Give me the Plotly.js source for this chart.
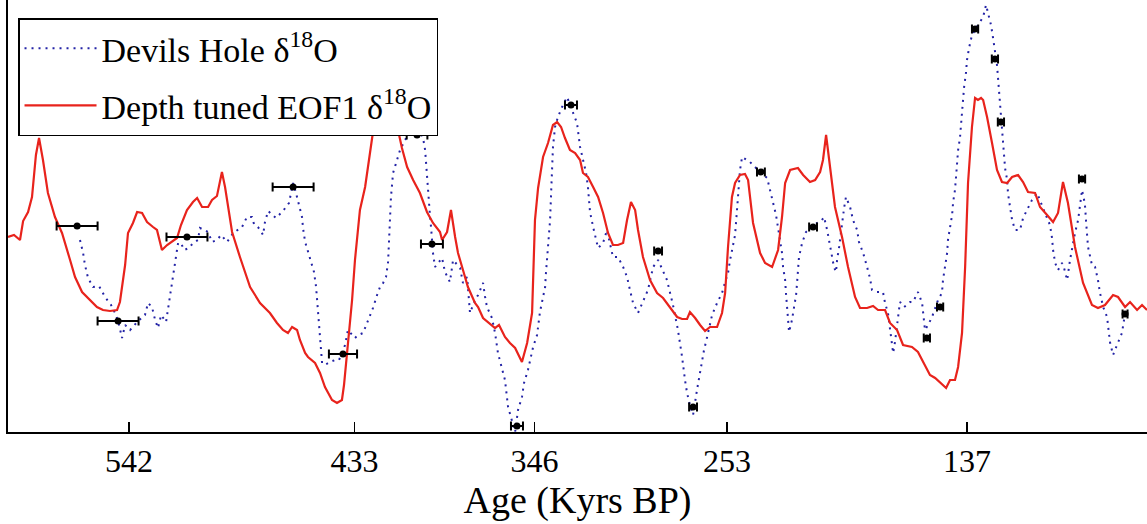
<!DOCTYPE html>
<html>
<head>
<meta charset="utf-8">
<script src="https://cdn.plot.ly/plotly-3.0.1.min.js"></script>
<style>
html,body{margin:0;padding:0;background:#fff;}
#chart{width:1147px;height:524px;}
</style>
</head>
<body>
<div id="chart"></div>
<script>
// Age axis (kyr BP) tick labels
const tickAges = [542, 433, 346, 253, 137];

// Depth tuned EOF1 d18O (arbitrary vertical units)
const eofAge = [600.5,597.6,594.7,593.2,590.8,588.9,587.0,585.5,583.6,581.2,577.8,574.4,570.5,568.1,564.7,560.9,557.5,554.6,551.2,547.8,546.4,543.9,542.5,540.1,538.1,535.7,533.3,530.4,528.5,526.1,523.6,518.8,516.9,514.0,511.1,509.1,506.7,503.8,501.9,499.5,497.1,495.6,492.2,488.4,483.5,478.7,473.9,470.5,467.6,465.2,463.2,460.8,459.4,456.9,455.5,452.1,449.7,447.3,443.9,441.5,439.1,438.1,436.2,434.2,432.8,430.4,427.9,425.5,424.1,420.7,417.8,414.9,412.0,410.1,407.6,404.7,401.4,398.0,395.1,391.7,390.7,388.3,386.4,384.4,383.0,380.6,378.2,374.8,373.3,370.9,368.5,365.1,363.2,360.3,357.9,355.4,352.1,349.6,347.2,345.8,344.3,341.9,339.5,337.1,335.1,333.2,331.3,328.9,326.4,324.0,322.6,320.2,317.7,315.3,312.9,310.5,308.1,305.7,303.2,301.3,299.4,297.4,296.0,293.6,290.2,286.8,283.9,280.5,277.1,274.7,272.3,270.9,268.4,266.0,263.6,261.2,257.8,255.4,253.9,252.5,250.6,249.1,246.7,244.3,242.8,240.4,237.0,234.6,231.2,228.3,226.4,224.9,222.5,218.7,216.2,212.9,210.4,208.0,206.6,205.1,203.2,200.8,197.4,194.5,191.1,188.7,185.3,182.4,180.0,176.6,174.2,170.8,167.9,163.6,160.7,158.2,154.9,152.4,150.0,147.1,145.2,142.8,141.3,139.4,137.9,136.5,134.6,133.1,131.7,130.2,129.2,127.3,124.9,122.5,120.1,117.6,115.2,112.3,109.9,107.5,104.1,101.7,98.3,95.4,93.0,90.6,88.2,84.8,80.9,76.6,73.7,70.3,66.4,64.0,60.6,58.2,54.8,52.4,50.0];
const eofVal = [1.95,1.97,1.92,2.11,2.20,2.35,2.77,2.94,2.72,2.39,2.15,1.99,1.72,1.55,1.40,1.32,1.25,1.22,1.21,1.22,1.30,1.67,1.99,2.09,2.20,2.19,2.10,2.05,2.02,1.82,1.87,1.94,2.07,2.22,2.30,2.34,2.25,2.25,2.32,2.36,2.60,2.45,2.00,1.75,1.45,1.29,1.19,1.09,1.02,0.99,1.05,1.02,0.92,0.79,0.75,0.69,0.59,0.45,0.32,0.29,0.32,0.47,0.85,1.32,1.72,2.22,2.45,2.79,3.00,3.27,3.37,3.22,3.02,2.84,2.65,2.52,2.39,2.20,2.09,2.00,1.92,2.00,2.22,1.95,1.79,1.62,1.45,1.29,1.25,1.14,1.10,1.04,1.07,0.95,0.89,0.84,0.70,0.89,1.19,2.12,2.44,2.75,2.89,3.07,3.10,3.05,2.94,2.82,2.79,2.72,2.59,2.55,2.45,2.35,2.19,1.99,1.87,1.87,1.89,2.12,2.30,2.22,2.02,1.75,1.52,1.39,1.34,1.25,1.15,1.13,1.13,1.20,1.14,1.07,1.01,1.05,1.05,1.19,1.39,1.85,2.35,2.49,2.57,2.58,2.52,2.09,1.79,1.69,1.65,1.82,2.15,2.49,2.62,2.64,2.57,2.50,2.52,2.60,2.72,2.97,2.65,2.25,1.95,1.65,1.35,1.24,1.24,1.26,1.22,1.22,1.09,1.02,0.87,0.85,0.80,0.70,0.57,0.54,0.49,0.44,0.52,0.52,0.65,0.99,1.65,2.49,3.05,3.34,3.32,3.34,3.32,3.15,2.89,2.62,2.50,2.49,2.55,2.57,2.50,2.40,2.39,2.25,2.17,2.10,2.19,2.50,2.29,1.85,1.49,1.27,1.24,1.27,1.37,1.35,1.25,1.30,1.22,1.27,1.22];

// Devils Hole d18O (same vertical units)
const dhAge = [565.7,564.2,563.3,561.8,559.4,556.5,553.6,550.7,548.3,546.8,545.4,543.9,541.5,538.1,534.3,532.8,530.9,529.4,528.0,526.5,524.1,523.2,522.2,521.2,520.3,519.3,518.3,516.9,515.4,513.0,511.1,508.7,507.7,503.8,501.9,499.5,497.5,494.6,491.7,487.4,485.0,482.6,481.6,479.7,477.2,476.3,474.8,471.0,467.6,464.7,462.7,461.3,459.8,458.4,457.9,456.9,456.0,454.0,452.6,451.6,451.1,450.7,450.2,449.7,449.2,448.7,447.3,444.9,442.4,440.5,437.6,436.2,432.8,431.3,428.9,426.5,424.1,422.1,420.7,419.2,417.8,416.8,416.3,415.9,415.4,414.4,412.5,411.0,408.6,405.2,402.3,399.9,398.9,398.5,398.0,397.5,397.0,396.5,396.0,395.1,394.1,390.7,389.3,386.9,385.4,382.0,380.6,378.6,377.2,374.8,373.3,370.9,369.9,369.0,366.6,365.1,363.7,361.7,360.3,358.8,356.9,355.4,354.0,352.1,351.1,349.2,346.7,344.8,343.4,341.9,340.9,340.5,340.0,339.5,338.5,338.0,337.6,337.1,336.1,334.7,332.7,330.3,327.9,325.5,324.0,322.6,321.1,320.2,319.7,319.2,317.7,315.3,312.9,311.0,308.1,305.7,303.2,301.3,299.9,298.4,296.0,293.6,291.2,288.7,286.3,282.0,280.5,279.1,276.7,275.7,274.7,273.3,272.3,270.9,269.4,267.5,266.5,265.1,264.1,262.6,260.2,257.8,255.4,253.9,252.5,251.5,250.1,249.1,248.6,248.1,247.7,247.2,246.7,245.7,241.9,237.0,233.6,232.2,230.7,229.3,228.3,226.4,225.9,224.9,224.5,224.0,223.5,223.0,221.6,220.6,219.6,219.1,218.2,216.7,214.8,211.9,209.5,207.1,206.1,204.6,203.7,202.2,201.3,200.3,199.8,198.8,197.4,196.4,195.5,193.5,192.1,190.1,189.2,187.2,185.3,183.9,182.9,180.5,177.6,176.6,175.2,174.2,172.7,171.8,170.3,169.4,167.4,164.5,163.1,160.7,158.7,157.8,157.3,155.8,153.9,151.0,149.1,148.6,147.6,146.6,146.2,145.2,144.2,143.7,142.8,142.3,141.8,141.3,140.4,139.9,139.4,138.9,138.4,137.5,137.0,136.0,134.6,132.6,130.7,129.2,127.8,126.8,125.4,124.4,123.4,122.5,122.0,121.5,121.0,120.5,120.1,119.6,119.1,118.6,117.6,117.2,116.2,115.2,113.8,111.4,109.9,107.5,105.6,103.1,100.7,99.3,96.9,95.9,95.4,94.4,93.0,91.1,90.1,88.6,87.2,86.2,84.8,83.3,82.4,81.4,80.4,79.9,79.5,79.0,78.5,76.6,75.1,73.7,72.7,71.2,69.3,67.9,66.4,64.5,62.1,61.1,60.6];
const dhVal = [1.92,1.79,1.67,1.54,1.45,1.46,1.35,1.27,1.17,1.07,0.94,1.07,1.02,1.10,1.17,1.29,1.25,1.12,1.04,1.17,1.10,1.22,1.35,1.49,1.60,1.74,1.89,1.89,1.82,1.84,1.89,1.92,2.04,2.00,1.90,1.92,1.97,1.90,1.99,2.05,2.15,2.15,2.08,2.05,1.97,2.10,2.21,2.14,2.21,2.29,2.49,2.39,2.28,2.15,2.04,1.90,1.84,1.70,1.60,1.45,1.34,1.20,1.07,0.95,0.82,0.69,0.67,0.70,0.72,0.72,0.87,1.02,0.94,0.97,0.99,1.12,1.24,1.37,1.45,1.49,1.55,1.70,1.95,2.22,2.35,2.59,2.72,2.82,2.92,3.04,3.05,2.94,2.82,2.69,2.55,2.42,2.29,2.15,2.04,1.79,1.65,1.74,1.60,1.50,1.72,1.64,1.49,1.55,1.19,1.32,1.37,1.49,1.35,1.25,1.14,0.99,0.79,0.64,0.52,0.25,0.12,0.00,0.22,0.35,0.49,0.62,0.85,0.97,1.20,1.34,1.45,1.59,1.72,1.85,2.12,2.39,2.65,2.85,3.05,3.15,3.25,3.35,3.22,3.09,2.85,2.72,2.59,2.45,2.32,2.20,2.05,1.84,1.89,2.02,1.75,1.75,1.65,1.55,1.42,1.29,1.19,1.30,1.42,1.65,1.72,1.52,1.39,1.27,1.02,0.89,0.75,0.52,0.39,0.27,0.17,0.42,0.55,0.69,0.82,0.95,1.17,1.29,1.39,1.50,1.59,1.72,1.85,1.97,2.10,2.22,2.37,2.50,2.62,2.75,2.70,2.60,2.54,2.42,2.29,2.17,2.04,1.79,1.65,1.52,1.39,1.27,1.14,1.00,1.12,1.25,1.37,1.50,1.75,1.89,2.00,2.05,2.09,2.12,2.15,2.02,1.92,1.79,1.65,1.60,1.72,1.85,2.10,2.24,2.35,2.25,2.12,2.02,1.90,1.79,1.65,1.54,1.42,1.40,1.40,1.29,1.19,1.04,0.79,0.90,1.17,1.30,1.25,1.30,1.30,1.40,1.29,1.15,1.02,1.07,1.15,1.32,1.39,1.52,1.65,1.79,1.92,2.04,2.17,2.30,2.42,2.55,2.69,2.82,2.94,3.07,3.20,3.34,3.45,3.59,3.72,3.84,3.97,4.04,4.10,4.15,4.27,4.19,4.07,3.94,3.80,3.67,3.54,3.42,3.29,3.15,3.02,2.89,2.77,2.64,2.52,2.39,2.25,2.12,2.02,2.02,2.14,2.25,2.32,2.39,2.25,2.19,2.07,1.94,1.82,1.69,1.62,1.69,1.64,1.52,1.72,1.84,1.99,2.12,2.29,2.42,2.32,2.25,2.12,1.99,1.85,1.67,1.65,1.52,1.39,1.25,1.15,0.90,0.77,0.87,0.99,1.12,1.18];

// Radiometric tie points with age uncertainties
const tieAge = [567.1,547.3,514.0,462.7,438.6,402.8,395.6,354.5,328.4,286.3,269.4,236.6,211.4,156.4,150.0,133.1,123.5,120.6,81.4,60.6];
const tieVal = [2.06,1.11,1.95,2.45,0.78,2.97,1.88,0.06,3.27,1.81,0.25,2.60,2.05,0.94,1.25,4.03,3.73,3.10,2.53,1.18];
const tieErr = [9.9,9.9,9.9,9.9,6.8,5.0,5.3,2.9,2.9,1.9,1.9,1.9,1.9,1.5,1.5,1.5,1.5,1.5,1.5,1.2];

const serif = '"Liberation Serif", "Times New Roman", "DejaVu Serif", serif';

const traces = [
  {
    x: dhAge, y: dhVal, type: 'scatter', mode: 'lines',
    name: 'Devils Hole δ<sup>18</sup>O',
    line: {color: '#2323a6', width: 2, dash: '2px,5px'},
    legendgroup: 'a'
  },
  {
    x: eofAge, y: eofVal, type: 'scatter', mode: 'lines',
    name: 'Depth tuned EOF1 δ<sup>18</sup>O',
    line: {color: '#e8231c', width: 2.2},
    legendgroup: 'b'
  },
  {
    x: tieAge, y: tieVal, type: 'scatter', mode: 'markers',
    showlegend: false,
    marker: {color: '#000', size: 7},
    error_x: {type: 'data', array: tieErr, visible: true, color: '#000', thickness: 2, width: 4.5}
  }
];

const layout = {
  width: 1147, height: 524,
  margin: {l: 8, r: 0, t: 0, b: 92},
  paper_bgcolor: '#fff', plot_bgcolor: '#fff',
  font: {family: serif, color: '#000', size: 32},
  showlegend: true,
  legend: {
    x: 0.0088, y: 0.958, xanchor: 'left', yanchor: 'top',
    bgcolor: '#fff', bordercolor: '#000', borderwidth: 1.5,
    font: {family: serif, size: 34, color: '#000'},
    traceorder: 'grouped', tracegroupgap: 10, itemwidth: 72
  },
  xaxis: {
    range: [600.5, 50],
    tickvals: tickAges, ticktext: tickAges.map(String),
    ticks: 'inside', ticklen: 10, tickwidth: 1.5, tickcolor: '#000',
    showline: true, linecolor: '#000', linewidth: 2,
    showgrid: false, zeroline: false,
    tickfont: {family: serif, size: 32, color: '#000'},
    title: {text: 'Age (Kyrs BP)', font: {family: serif, size: 38, color: '#000'}, standoff: 0}
  },
  yaxis: {
    range: [0, 4.32],
    showline: true, linecolor: '#000', linewidth: 2,
    showticklabels: false, ticks: '', showgrid: false, zeroline: false
  }
};

Plotly.newPlot('chart', traces, layout, {displayModeBar: false, staticPlot: true});
</script>
</body>
</html>
